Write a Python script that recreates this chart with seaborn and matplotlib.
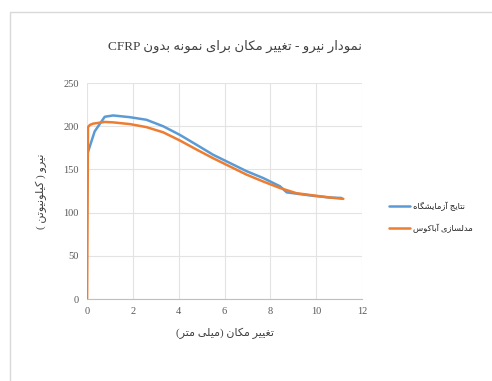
import re
import pandas as pd
import matplotlib
matplotlib.use("Agg")
import matplotlib.pyplot as plt
import matplotlib.patches as patches
import seaborn as sns

# lab results (blue)
lab_disp = [0.0, 0.33, 0.77, 1.14, 1.87, 2.59, 3.32, 4.05, 4.78, 5.5, 6.23, 6.96, 7.69, 8.42, 8.71, 9.14, 9.87, 10.6, 11.1]
lab_force = [167, 194, 211, 212.5, 210.5, 207.5, 200, 190, 178.5, 167, 157.5, 148, 140, 130.5, 123.5, 122, 119.5, 117.5, 117]

# abaqus model (orange)
fem_disp = [0.0, 0.04, 0.12, 0.26, 0.77, 1.14, 1.87, 2.59, 3.32, 4.05, 4.78, 5.5, 6.23, 6.96, 7.69, 8.42, 9.14, 9.87, 10.6, 11.18]
fem_force = [0, 199, 201.5, 203, 205, 204.5, 202.5, 199, 193, 183.5, 173, 163, 153.5, 144, 136, 128.5, 122.5, 120, 117.5, 116]

x_ticks = [0, 2, 4, 6, 8, 10, 12]
y_ticks = [0, 50, 100, 150, 200, 250]

title_txt = "نمودار نیرو - تغییر مکان برای نمونه بدون CFRP"
xlabel_txt = "تغییر مکان (میلی متر)"
ylabel_txt = "نیرو ( کیلونیوتن )"
series_names = ["نتایج آزمایشگاه", "مدلسازی آباکوس"]

# contextual forms: isolated, final, initial, medial
FORMS = {
    'ا': ('\uFE8D', '\uFE8E', None, None),
    'آ': ('\uFE81', '\uFE82', None, None),
    'ب': ('\uFE8F', '\uFE90', '\uFE91', '\uFE92'),
    'ت': ('\uFE95', '\uFE96', '\uFE97', '\uFE98'),
    'ج': ('\uFE9D', '\uFE9E', '\uFE9F', '\uFEA0'),
    'د': ('\uFEA9', '\uFEAA', None, None),
    'ر': ('\uFEAD', '\uFEAE', None, None),
    'ز': ('\uFEAF', '\uFEB0', None, None),
    'س': ('\uFEB1', '\uFEB2', '\uFEB3', '\uFEB4'),
    'ش': ('\uFEB5', '\uFEB6', '\uFEB7', '\uFEB8'),
    'غ': ('\uFECD', '\uFECE', '\uFECF', '\uFED0'),
    'ل': ('\uFEDD', '\uFEDE', '\uFEDF', '\uFEE0'),
    'م': ('\uFEE1', '\uFEE2', '\uFEE3', '\uFEE4'),
    'ن': ('\uFEE5', '\uFEE6', '\uFEE7', '\uFEE8'),
    'ه': ('\uFEE9', '\uFEEA', '\uFEEB', '\uFEEC'),
    'و': ('\uFEED', '\uFEEE', None, None),
    'ی': ('\uFBFC', '\uFBFD', '\uFBFE', '\uFBFF'),
    'ک': ('\uFB8E', '\uFB8F', '\uFB90', '\uFB91'),
    'گ': ('\uFB92', '\uFB93', '\uFB94', '\uFB95'),
}


def farsi(text):
    out = []
    for i, c in enumerate(text):
        if c not in FORMS:
            out.append(c)
            continue
        prev = text[i - 1] if i > 0 else ''
        nxt = text[i + 1] if i + 1 < len(text) else ''
        iso, fin, ini, med = FORMS[c]
        jp = prev in FORMS and FORMS[prev][2] is not None
        jn = nxt in FORMS and ini is not None
        if jp and jn:
            out.append(med)
        elif jp:
            out.append(fin)
        elif jn:
            out.append(ini)
        else:
            out.append(iso)
    s = ''.join(out)[::-1]
    s = re.sub(r'[A-Za-z0-9]+', lambda m: m.group(0)[::-1], s)
    return s.translate(str.maketrans('()', ')('))


df = pd.concat([
    pd.DataFrame({"disp": lab_disp, "force": lab_force, "series": farsi(series_names[0])}),
    pd.DataFrame({"disp": fem_disp, "force": fem_force, "series": farsi(series_names[1])}),
], ignore_index=True)

sns.set_style("white")
plt.rcParams['font.family'] = ['Liberation Serif', 'DejaVu Sans']

fig = plt.figure(figsize=(4.92, 3.81), dpi=100)
ax = fig.add_axes([0.177, 0.215, 0.559, 0.567])

sns.lineplot(data=df, x="disp", y="force", hue="series", sort=False, estimator=None,
             palette=["#5B9BD5", "#ED7D31"], linewidth=1.8, ax=ax)

ax.set_xlim(0, 12)
ax.set_ylim(0, 250)
ax.set_xticks(x_ticks)
ax.set_yticks(y_ticks)
ax.grid(True, color="#e3e3e3", linewidth=0.8)
for s in ["top", "right", "left"]:
    ax.spines[s].set_visible(False)
ax.spines["bottom"].set_color("#bfbfbf")
ax.tick_params(axis="both", length=0, labelsize=7.5, colors="#595959", pad=6)

ax.set_xlabel(farsi(xlabel_txt), fontsize=8, color="#404040", labelpad=8)
ax.set_ylabel(farsi(ylabel_txt), fontsize=8, color="#404040", labelpad=12)
fig.text(0.478, 0.877, farsi(title_txt), ha="center", va="center", fontsize=9.5, color="#404040")

handles, labels = ax.get_legend_handles_labels()
ax.legend(handles, labels, loc="center left", bbox_to_anchor=(0.775, 0.43),
          bbox_transform=fig.transFigure, frameon=False, fontsize=6,
          handlelength=2.6, labelspacing=1.5, handletextpad=0.3)

fig.patches.append(patches.Rectangle((0.02, -0.01), 1.0, 0.978, transform=fig.transFigure,
                                     fill=False, edgecolor="#d9d9d9", linewidth=1.0))

fig.savefig("out.png", dpi=100)
